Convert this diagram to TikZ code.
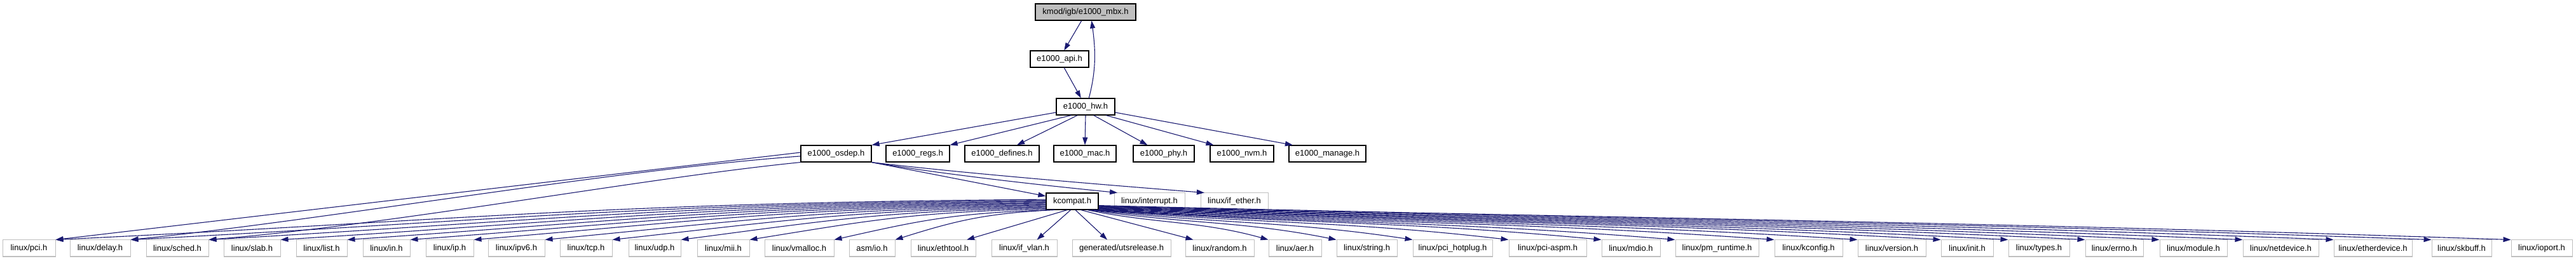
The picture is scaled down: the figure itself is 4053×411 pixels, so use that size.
\documentclass[tikz,border=0pt]{standalone}
\usepackage{fontspec}
\setmainfont{Liberation Sans}
\usetikzlibrary{arrows.meta}
\definecolor{edgeblue}{HTML}{191970}
\definecolor{extgray}{HTML}{BFBFBF}
\newcommand\lblfont{\fontsize{13}{15}\selectfont}
\begin{document}
\begin{tikzpicture}[x=1pt,y=-1pt,
  ibox/.style={draw=black,line width=1.2pt,fill=white,minimum height=26pt,inner sep=0pt,font=\lblfont},
  xbox/.style={ibox,draw=extgray,line width=1pt},
  edge/.style={draw=edgeblue,line width=1.1pt,-{Triangle[length=12pt,width=8pt]}}]
\useasboundingbox (0,0) rectangle (4053,411);
% top levels
\node[ibox,fill=extgray,minimum width=158] (kmod) at (1708,19) {kmod/igb/e1000\_mbx.h};
\node[ibox,minimum width=92] (api) at (1667,93) {e1000\_api.h};
\node[ibox,minimum width=92] (hw) at (1708,168) {e1000\_hw.h};
% row 3
\node[ibox,minimum width=111] (osdep) at (1315.5,242) {e1000\_osdep.h};
\node[ibox,minimum width=100] (regs) at (1444,242) {e1000\_regs.h};
\node[ibox,minimum width=117] (defines) at (1576.5,242) {e1000\_defines.h};
\node[ibox,minimum width=98] (mac) at (1707,242) {e1000\_mac.h};
\node[ibox,minimum width=96] (phy) at (1831,242) {e1000\_phy.h};
\node[ibox,minimum width=100] (nvm) at (1954,242) {e1000\_nvm.h};
\node[ibox,minimum width=121] (manage) at (2088.5,242) {e1000\_manage.h};
% row 4
\node[ibox,minimum width=82] (kc) at (1687,317) {kcompat.h};
\node[xbox,minimum width=111] (interrupt) at (1808.5,317) {linux/interrupt.h};
\node[xbox,minimum width=106] (ifether) at (1942,317) {linux/if\_ether.h};
% bottom row
\node[xbox,minimum width=83] (pci) at (45.5,391) {linux/pci.h};
\node[xbox,minimum width=95] (delay) at (157.5,391) {linux/delay.h};
\node[xbox,minimum width=98] (sched) at (279,391) {linux/sched.h};
\node[xbox,minimum width=89] (slab) at (396.5,391) {linux/slab.h};
\node[xbox,minimum width=80] (list) at (506,391) {linux/list.h};
\node[xbox,minimum width=74] (in) at (608,391) {linux/in.h};
\node[xbox,minimum width=75] (ip) at (707.5,391) {linux/ip.h};
\node[xbox,minimum width=89] (ipv6) at (812.5,391) {linux/ipv6.h};
\node[xbox,minimum width=82] (tcp) at (922,391) {linux/tcp.h};
\node[xbox,minimum width=82] (udp) at (1030,391) {linux/udp.h};
\node[xbox,minimum width=82] (mii) at (1138,391) {linux/mii.h};
\node[xbox,minimum width=109] (vmalloc) at (1257.5,391) {linux/vmalloc.h};
\node[xbox,minimum width=72] (asmio) at (1372,391) {asm/io.h};
\node[xbox,minimum width=102] (ethtool) at (1484,391) {linux/ethtool.h};
\node[xbox,minimum width=103] (ifvlan) at (1611.5,391) {linux/if\_vlan.h};
\node[xbox,minimum width=155] (uts) at (1764.5,391) {generated/utsrelease.h};
\node[xbox,minimum width=108] (random) at (1919,391) {linux/random.h};
\node[xbox,minimum width=83] (aer) at (2037.5,391) {linux/aer.h};
\node[xbox,minimum width=95] (string) at (2150.5,391) {linux/string.h};
\node[xbox,minimum width=125] (hotplug) at (2285.5,391) {linux/pci\_hotplug.h};
\node[xbox,minimum width=122] (aspm) at (2435,391) {linux/pci-aspm.h};
\node[xbox,minimum width=92] (mdio) at (2566,391) {linux/mdio.h};
\node[xbox,minimum width=131] (pmrt) at (2701.5,391) {linux/pm\_runtime.h};
\node[xbox,minimum width=107] (kconfig) at (2845.5,391) {linux/kconfig.h};
\node[xbox,minimum width=107] (version) at (2976.5,391) {linux/version.h};
\node[xbox,minimum width=82] (init) at (3095,391) {linux/init.h};
\node[xbox,minimum width=96] (types) at (3208,391) {linux/types.h};
\node[xbox,minimum width=91] (errno) at (3326.5,391) {linux/errno.h};
\node[xbox,minimum width=106] (module) at (3451,391) {linux/module.h};
\node[xbox,minimum width=119] (netdev) at (3588.5,391) {linux/netdevice.h};
\node[xbox,minimum width=123] (etherdev) at (3733.5,391) {linux/etherdevice.h};
\node[xbox,minimum width=94] (skbuff) at (3873,391) {linux/skbuff.h};
\node[xbox,minimum width=96] (ioport) at (3999,391) {linux/ioport.h};
% top edges
\draw[edge] (kmod.245) -- (api.62);
\draw[edge] (api.298) -- (hw.118);
\draw[edge] (hw.69) .. controls +(12,-45) and +(6,45) .. (kmod.305);
% e1000_hw edges
\draw[edge] (hw.191) -- (osdep.north east);
\draw[edge] (hw.211) -- (regs.north east);
\draw[edge] (hw.227) -- (defines.30);
\draw[edge] (hw.south) -- (mac.north);
\draw[edge] (hw.313) -- (phy.152);
\draw[edge] (hw.337) -- (nvm.163);
\draw[edge] (hw.349) -- (manage.166);
% osdep edges
\draw[edge] (osdep.south east) -- (kc.169);
\draw[edge] (osdep.south east) .. controls +(120,20) and +(-120,-12) .. (interrupt.165);
\draw[edge] (osdep.south east) .. controls +(150,18) and +(-150,-12) .. (ifether.164);
\draw[edge] (osdep.178) -- (pci.north east);
\draw[edge] (osdep.184) .. controls +(-300,22) and +(300,-30) .. (delay.north east);
\draw[edge] (osdep.south west) .. controls +(-250,25) and +(300,-25) .. (sched.north east);
% kcompat edges, left group
\foreach \t/\a/\d in {pci/176/1559, delay/178/1441, sched/180/1318, slab/182/1205,
  list/184/1100, in/186/1001, ip/188/901, ipv6/190/789, tcp/192/683, udp/194/575,
  mii/196/467, vmalloc/200/334, asmio/206/238}
  \draw[edge] (kc.\a) .. controls +(-0.45*\d,5) and +(0.4*\d,-30) .. (\t.north east);
% kcompat edges, middle
\draw[edge] (kc.240) -- (ethtool.20);
\draw[edge] (kc.260) -- (ifvlan.34);
\draw[edge] (kc.290) -- (uts.149);
\draw[edge] (kc.315) -- (random.162);
% kcompat edges, right group
\foreach \t/\a/\d in {aer/330/268, string/333/375, hotplug/336/495, aspm/338/646,
  mdio/340/792, pmrt/341/908, kconfig/342/1064, version/343/1195, init/344/1326,
  types/345/1432, errno/346/1553, module/347/1670, netdev/348/1801,
  etherdev/349/1944, skbuff/350/2098, ioport/351/2223}
  \draw[edge] (kc.\a) .. controls +(0.4*\d,22) and +(-0.4*\d,-30) .. (\t.north west);
\end{tikzpicture}
\end{document}
